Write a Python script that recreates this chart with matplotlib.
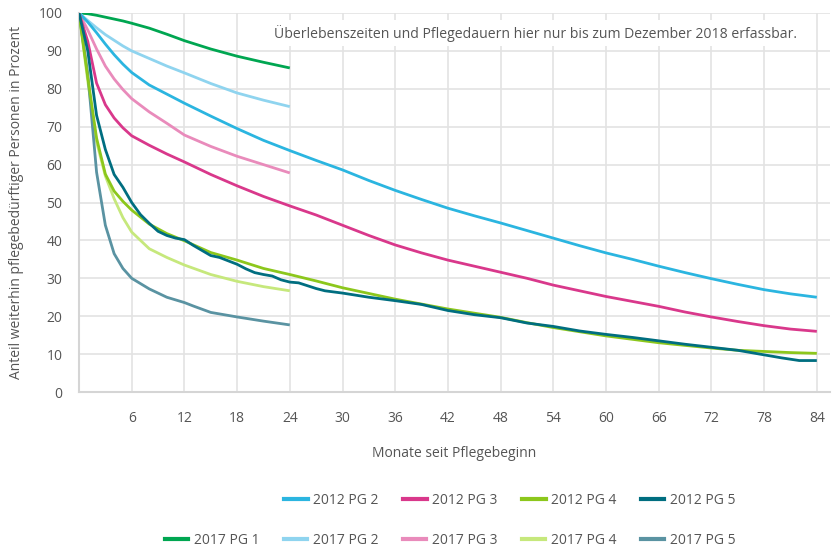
import matplotlib
matplotlib.use("Agg")
import matplotlib.pyplot as plt
from matplotlib.lines import Line2D

plt.rcParams['font.family'] = ['Open Sans', 'DejaVu Sans']

# ---------------- data ----------------
months_2012 = [0, 1, 2, 3, 4, 5, 6, 8, 10, 12, 15, 18, 21, 24, 27, 30, 33, 36, 39, 42,
               45, 48, 51, 54, 57, 60, 63, 66, 69, 72, 75, 78, 81, 84]
pg2_2012 = [100, 97.6, 94.8, 91.8, 89.0, 86.5, 84.3, 81, 78.6, 76.2, 72.8, 69.5, 66.4, 63.7,
            61.1, 58.6, 55.8, 53.2, 50.8, 48.5, 46.5, 44.6, 42.6, 40.6, 38.6, 36.7, 35, 33.2,
            31.5, 29.9, 28.4, 27, 25.9, 25]
pg3_2012 = [100, 92.5, 81.5, 75.8, 72.3, 69.7, 67.6, 65.1, 62.8, 60.7, 57.4, 54.4, 51.6, 49.1,
            46.7, 44, 41.3, 38.8, 36.7, 34.8, 33.2, 31.6, 30, 28.2, 26.7, 25.2, 23.9, 22.6,
            21.1, 19.8, 18.6, 17.5, 16.6, 16]
pg4_2012 = [100, 83, 67, 57.5, 53, 50.3, 48, 44.3, 41.8, 39.9, 36.8, 34.8, 32.6, 31, 29.3,
            27.5, 26, 24.5, 23.2, 21.9, 20.8, 19.7, 18.3, 17, 15.9, 14.8, 13.9, 13.0, 12.3,
            11.6, 11.0, 10.7, 10.4, 10.2]
months_2012_pg5 = [0, 1, 2, 3, 4, 5, 6, 7, 8, 9, 10, 11, 12, 13, 15, 16, 18, 19, 20, 21, 22,
                   23, 24, 25, 27, 28, 30, 33, 36, 39, 42, 45, 48, 51, 54, 57, 60, 63, 66, 69,
                   72, 75, 78, 80, 82, 84]
pg5_2012 = [100, 90, 73, 64, 57.4, 54, 50, 46.8, 44.5, 42.4, 41.3, 40.6, 40.2, 38.7, 36, 35.5,
            33.7, 32.5, 31.5, 31, 30.6, 29.6, 29, 28.8, 27.3, 26.7, 26.1, 25.0, 24.1, 23.1,
            21.5, 20.4, 19.6, 18.2, 17.3, 16.1, 15.2, 14.4, 13.5, 12.6, 11.8, 11.0, 9.8, 9.0,
            8.3, 8.3]

months_2017 = [0, 1, 2, 3, 4, 5, 6, 8, 10, 12, 15, 18, 21, 24]
pg1_2017 = [100, 99.8, 99.4, 98.9, 98.4, 97.9, 97.3, 96, 94.4, 92.7, 90.5, 88.6, 87, 85.5]
pg2_2017 = [100, 98, 96.1, 94.3, 92.8, 91.3, 90, 88, 86, 84.2, 81.4, 78.9, 77, 75.3]
pg3_2017 = [100, 95.5, 90.5, 86, 82.6, 79.8, 77.4, 73.9, 70.9, 67.8, 64.8, 62.2, 60, 57.8]
pg4_2017 = [100, 82, 66, 57, 51, 46, 42.2, 37.8, 35.5, 33.5, 31, 29.2, 27.8, 26.7]
months_2017_pg5 = [0, 1, 2, 3, 4, 5, 6, 8, 10, 12, 13, 15, 18, 21, 24]
pg5_2017 = [100, 84, 58, 44, 36.5, 32.6, 30, 27.2, 25, 23.6, 22.7, 21, 19.8, 18.7, 17.7]

x_ticks = [6, 12, 18, 24, 30, 36, 42, 48, 54, 60, 66, 72, 78, 84]
y_ticks = [0, 10, 20, 30, 40, 50, 60, 70, 80, 90, 100]

labels_2012 = ['2012 PG 2', '2012 PG 3', '2012 PG 4', '2012 PG 5']
labels_2017 = ['2017 PG 1', '2017 PG 2', '2017 PG 3', '2017 PG 4', '2017 PG 5']
colors_2012 = ['#2bb5e0', '#d9388b', '#8cc71c', '#006e80']
colors_2017 = ['#00a651', '#8fd4ef', '#e98bbb', '#c6e87c', '#5a93a2']

title_note = 'Überlebenszeiten und Pflegedauern hier nur bis zum Dezember 2018 erfassbar.'
xlabel = 'Monate seit Pflegebeginn'
ylabel = 'Anteil weiterhin pflegebedürftiger Personen in Prozent'

# ---------------- figure ----------------
fig = plt.figure(figsize=(8.39, 5.5), dpi=100)
ax = fig.add_axes([79 / 839, 158 / 550, (830 - 79) / 839, 379 / 550])

text_col = '#555555'
grid_col = '#e3e3e3'
lw = 2.0

series_2012 = [(months_2012, pg2_2012), (months_2012, pg3_2012),
               (months_2012, pg4_2012), (months_2012_pg5, pg5_2012)]
series_2017 = [(months_2017, pg1_2017), (months_2017, pg2_2017), (months_2017, pg3_2017),
               (months_2017, pg4_2017), (months_2017_pg5, pg5_2017)]

for (xs, ys), c in zip(series_2017, colors_2017):
    ax.plot(xs, ys, color=c, lw=lw, solid_capstyle='butt', zorder=3)
for (xs, ys), c in zip(series_2012, colors_2012):
    ax.plot(xs, ys, color=c, lw=lw, solid_capstyle='butt', zorder=3)

ax.set_xlim(0, 85.5)
ax.set_ylim(0, 100)
ax.set_xticks(x_ticks)
ax.set_yticks(y_ticks)
ax.grid(True, color=grid_col, lw=1.2, zorder=0)
ax.set_axisbelow(True)
for s in ['top', 'right']:
    ax.spines[s].set_visible(False)
for s in ['left', 'bottom']:
    ax.spines[s].set_color('#d5d5d5')
    ax.spines[s].set_linewidth(1.5)
ax.tick_params(axis='both', length=0, colors=text_col, labelsize=10)
ax.tick_params(axis='x', pad=14)
ax.tick_params(axis='y', pad=12)

ax.set_xlabel(xlabel, color=text_col, fontsize=10, labelpad=14)
ax.set_ylabel(ylabel, color=text_col, fontsize=10, labelpad=10)

ax.text(0.608, 0.947, title_note, transform=ax.transAxes, ha='center', va='center',
        fontsize=10.1, color=text_col,
        bbox=dict(facecolor='white', edgecolor='none', pad=3), zorder=4)

h1 = [Line2D([], [], color=c, lw=3) for c in colors_2012]
h2 = [Line2D([], [], color=c, lw=3) for c in colors_2017]
fig.legend(h1, labels_2012, ncol=4, loc='center right',
           bbox_to_anchor=(748 / 839, 1 - 500 / 550), frameon=False,
           fontsize=10, labelcolor=text_col, handlelength=1.7,
           handletextpad=0.4, columnspacing=1.75)
fig.legend(h2, labels_2017, ncol=5, loc='center right',
           bbox_to_anchor=(748 / 839, 1 - 540 / 550), frameon=False,
           fontsize=10, labelcolor=text_col, handlelength=1.7,
           handletextpad=0.4, columnspacing=1.75)

fig.savefig('out.png', dpi=100)
